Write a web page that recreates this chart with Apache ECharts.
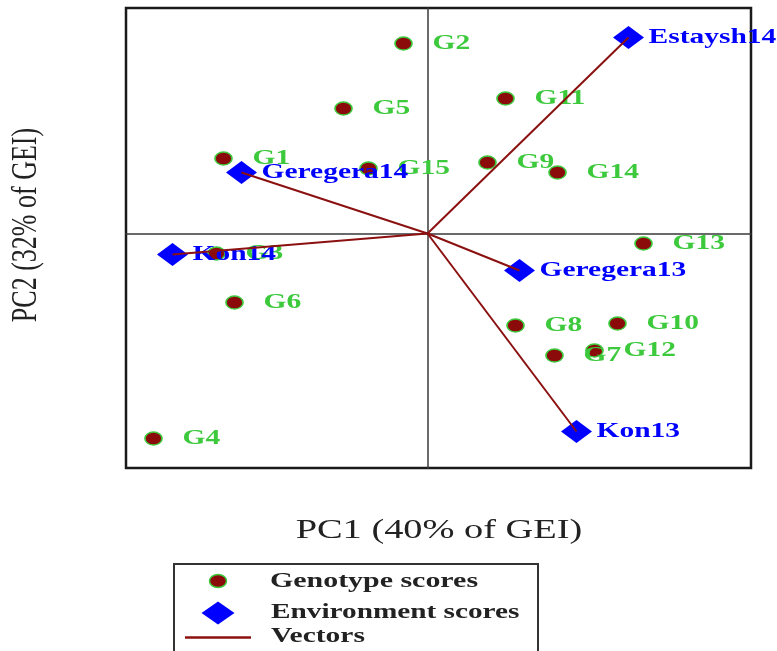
<!DOCTYPE html>
<html>
<head>
<meta charset="utf-8">
<script src="https://cdn.jsdelivr.net/npm/echarts@6/dist/echarts.min.js"></script>
<style>html,body{margin:0;padding:0;background:#fff;}#chart{width:777px;height:651px;}</style>
</head>
<body>
<div id="chart"></div>
<script>
// ---- data ----
const genoNames = ['G1','G2','G3','G4','G5','G6','G7','G8','G9','G10','G11','G12','G13','G14','G15'];
const genoPC1   = [-2.04,-0.24,-2.11,-2.74,-0.84,-1.93, 1.27, 0.88, 0.60, 1.90, 0.78, 1.67, 2.16, 1.30,-0.59];
const genoPC2   = [ 0.75, 1.90,-0.20,-2.05, 1.25,-0.69,-1.22,-0.92, 0.71,-0.90, 1.35,-1.17,-0.10, 0.61, 0.65];
const envNames  = ['Estaysh14','Geregera14','Kon14','Geregera13','Kon13'];
const envPC1    = [ 2.01,-1.86,-2.55, 0.92, 1.49];
const envPC2    = [ 1.96, 0.61,-0.21,-0.37,-1.98];
const xTitle = 'PC1 (40% of GEI)';
const yTitle = 'PC2 (32% of GEI)';
const legendNames = ['Genotype scores','Environment scores','Vectors'];

const SERIF = '"Liberation Serif","Times New Roman",serif';
const GREEN = '#3cc93c';
const DARKRED = '#8b0a0a';
const BLUE = '#0000ff';
const SX = 1.34; // horizontal stretch of the original picture

const genoData = genoNames.map((n,i)=>({name:n, value:[genoPC1[i], genoPC2[i]]}));
const envData  = envNames.map((n,i)=>({name:n, value:[envPC1[i], envPC2[i]]}));

function labelRenderer(names, dx, color){
  return function(params, api){
    const p = api.coord([api.value(0), api.value(1)]);
    return {
      type:'text', x:p[0]+dx, y:p[1], scaleX:SX,
      style:{text:names[params.dataIndex], font:'bold 22px '+SERIF, fill:color,
             align:'left', verticalAlign:'middle', textAlign:'left', textVerticalAlign:'middle'}
    };
  };
}

const chart = echarts.init(document.getElementById('chart'), null, {renderer:'canvas'});
chart.setOption({
  animation:false,
  backgroundColor:'#fff',
  grid:{left:126, top:8, width:625, height:460, show:true, borderColor:'#1a1a1a', borderWidth:2.5, backgroundColor:'transparent'},
  xAxis:{type:'value', min:-3.015, max:3.235,
    axisLine:{show:true, onZero:true, lineStyle:{color:'#3a3a3a', width:1.5}},
    axisTick:{show:false}, axisLabel:{show:false}, splitLine:{show:false}},
  yAxis:{type:'value', min:-2.345, max:2.255,
    axisLine:{show:true, onZero:true, lineStyle:{color:'#3a3a3a', width:1.5}},
    axisTick:{show:false}, axisLabel:{show:false}, splitLine:{show:false}},
  series:[
    {name:legendNames[0], type:'scatter', data:genoData, symbol:'circle', symbolSize:[17,13], z:2,
      itemStyle:{color:DARKRED, borderColor:GREEN, borderWidth:1.5, opacity:1}},
    {name:'genoLabels', type:'custom', data:genoData, z:3, renderItem:labelRenderer(genoNames, 29, GREEN)},
    {name:legendNames[1], type:'scatter', data:envData, symbol:'diamond', symbolSize:[31,23], z:4,
      itemStyle:{color:BLUE, opacity:1}},
    {name:'envLabels', type:'custom', data:envData, z:5, renderItem:labelRenderer(envNames, 20, BLUE)},
    {name:legendNames[2], type:'custom', data:envData, z:6,
      renderItem:function(params, api){
        const o = api.coord([0,0]);
        const p = api.coord([api.value(0), api.value(1)]);
        return {type:'line', shape:{x1:o[0], y1:o[1], x2:p[0], y2:p[1]},
                style:{stroke:'#8b1010', lineWidth:2}};
      }}
  ],
  graphic:[
    {type:'text', x:439, y:531, scaleX:1.37, z:10,
      style:{text:xTitle, font:'28px '+SERIF, fill:'#222', align:'center', verticalAlign:'middle', textAlign:'center', textVerticalAlign:'middle'}},
    {type:'text', x:27, y:225, rotation:Math.PI/2, scaleY:1.35, z:10,
      style:{text:yTitle, font:'26px '+SERIF, fill:'#222', align:'center', verticalAlign:'middle', textAlign:'center', textVerticalAlign:'middle'}},
    {type:'rect', shape:{x:174, y:564, width:364, height:100}, z:10,
      style:{fill:'#fff', stroke:'#333', lineWidth:2}},
    {type:'ellipse', shape:{cx:218, cy:581, rx:8.5, ry:6.5}, z:11,
      style:{fill:DARKRED, stroke:GREEN, lineWidth:1.5}},
    {type:'polygon', shape:{points:[[218,601.5],[234.5,613],[218,624.5],[201.5,613]]}, z:11,
      style:{fill:BLUE}},
    {type:'line', shape:{x1:185, y1:637.5, x2:251, y2:637.5}, z:11,
      style:{stroke:'#8b1010', lineWidth:2.5}},
    {type:'text', x:270, y:581, scaleX:1.36, z:11,
      style:{text:legendNames[0], font:'bold 22px '+SERIF, fill:'#222', align:'left', verticalAlign:'middle', textAlign:'left', textVerticalAlign:'middle'}},
    {type:'text', x:271, y:612, scaleX:1.33, z:11,
      style:{text:legendNames[1], font:'bold 22px '+SERIF, fill:'#222', align:'left', verticalAlign:'middle', textAlign:'left', textVerticalAlign:'middle'}},
    {type:'text', x:271, y:636, scaleX:1.34, z:11,
      style:{text:legendNames[2], font:'bold 22px '+SERIF, fill:'#222', align:'left', verticalAlign:'middle', textAlign:'left', textVerticalAlign:'middle'}}
  ]
});
</script>
</body>
</html>
